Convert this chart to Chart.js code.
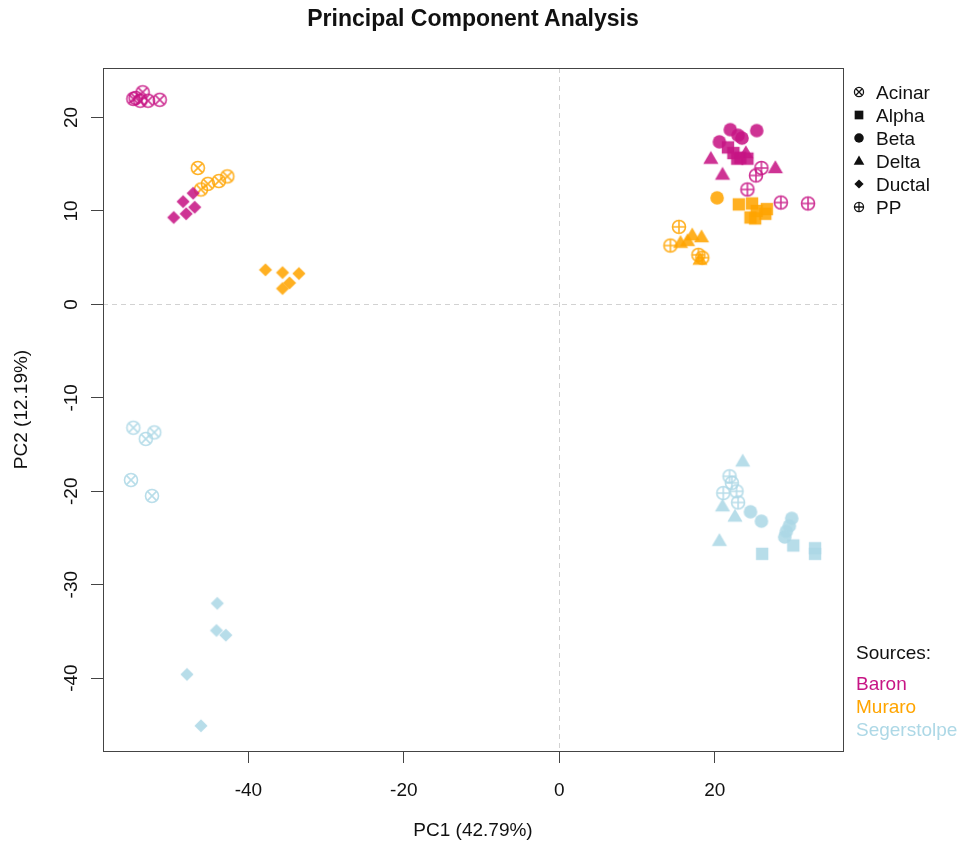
<!DOCTYPE html>
<html><head><meta charset="utf-8">
<script src="https://cdn.jsdelivr.net/npm/chart.js@4"></script>
<style>
html,body{margin:0;padding:0;background:#fff;}
#wrap{position:relative;width:960px;height:845px;font-family:"Liberation Sans",Arial,Helvetica,sans-serif;color:#111;overflow:hidden;}
#c{position:absolute;left:0;top:0;}
.t{position:absolute;white-space:nowrap;font-size:19px;line-height:19px;}
.sym{position:absolute;}
</style></head><body>
<div id="wrap">
<canvas id="c" width="960" height="845"></canvas>
<div class="t" style="left:0;width:946px;top:6.8px;text-align:center;font-weight:bold;font-size:23px;line-height:23px;">Principal Component Analysis</div>
<div id="legend1"></div>
<div id="legend2"></div>
</div>
<script>
// ---- data (PC1, PC2) ----
const cellTypes = ["Acinar", "Alpha", "Beta", "Delta", "Ductal", "PP"];
const sources = ["Baron", "Muraro", "Segerstolpe"];
const sourceColors = ["#C71585", "#FFA500", "#ADD8E6"];
const xTicks = [-40, -20, 0, 20];
const yTicks = [-40, -30, -20, -10, 0, 10, 20];

const baronAcinar = [[-54.8,22.0],[-53.6,22.7],[-53.9,21.8],[-52.9,21.8],[-51.4,21.9],[-54.5,22.1]];
const baronAlpha  = [[21.7,16.8],[22.4,16.2],[23.3,15.7],[24.2,15.6],[22.9,15.6]];
const baronBeta   = [[22.0,18.7],[23.0,18.1],[25.4,18.6],[20.6,17.4],[23.5,17.8]];
const baronDelta  = [[19.5,15.6],[21.0,13.9],[27.8,14.6],[24.0,16.2]];
const baronDuctal = [[-47.1,11.9],[-48.4,11.0],[-46.9,10.4],[-48.0,9.7],[-49.6,9.3]];
const baronPP     = [[26.0,14.6],[25.3,13.8],[24.2,12.3],[28.5,10.9],[32.0,10.8]];

const muraroAcinar = [[-46.5,14.6],[-46.1,12.3],[-45.2,12.9],[-43.8,13.2],[-42.7,13.7]];
const muraroAlpha  = [[23.1,10.7],[24.8,10.8],[25.4,10.0],[26.7,10.2],[24.6,9.3],[26.5,9.7],[25.2,9.2]];
const muraroBeta   = [[20.3,11.4]];
const muraroDelta  = [[17.1,7.4],[18.3,7.2],[15.6,6.6],[18.1,4.8],[16.5,6.8]];
const muraroDuctal = [[-37.8,3.7],[-35.6,3.4],[-33.5,3.3],[-34.7,2.3],[-35.6,1.7]];
const muraroPP     = [[15.4,8.3],[14.3,6.3],[17.9,5.3],[18.4,5.0]];

const segerAcinar = [[-54.8,-13.2],[-53.2,-14.4],[-52.1,-13.7],[-55.1,-18.8],[-52.4,-20.5]];
const segerAlpha  = [[26.1,-26.7],[30.1,-25.8],[32.9,-26.1],[32.9,-26.7]];
const segerBeta   = [[24.6,-22.2],[26.0,-23.2],[29.9,-22.9],[29.6,-23.7],[29.2,-24.3],[29.0,-24.9]];
const segerDelta  = [[23.6,-16.8],[21.0,-21.6],[22.6,-22.7],[20.6,-25.3]];
const segerDuctal = [[-44.0,-32.0],[-44.1,-34.9],[-42.9,-35.4],[-47.9,-39.6],[-46.1,-45.1]];
const segerPP     = [[21.9,-18.4],[22.2,-19.1],[22.8,-20.0],[21.1,-20.2],[23.0,-21.2]];

const groups = [
  [baronAcinar, baronAlpha, baronBeta, baronDelta, baronDuctal, baronPP],
  [muraroAcinar, muraroAlpha, muraroBeta, muraroDelta, muraroDuctal, muraroPP],
  [segerAcinar, segerAlpha, segerBeta, segerDelta, segerDuctal, segerPP]
];

// ---- marker images (R pch 13,15,16,17,18,10) ----
function makeMarker(type, color, s, alpha) {
  const N = Math.ceil(22 * s) + 2;
  const tmp = document.createElement('canvas'); tmp.width = N; tmp.height = N;
  const g = tmp.getContext('2d');
  const c = N / 2;
  g.fillStyle = color; g.strokeStyle = color; g.lineWidth = 1.6 * Math.max(s, 0.8);
  const r = 6.5 * s;
  if (type === 'Acinar' || type === 'PP') {
    g.beginPath(); g.arc(c, c, r, 0, 2 * Math.PI); g.stroke();
    g.beginPath();
    if (type === 'Acinar') {
      const d = r * 0.7071;
      g.moveTo(c - d, c - d); g.lineTo(c + d, c + d);
      g.moveTo(c - d, c + d); g.lineTo(c + d, c - d);
    } else {
      g.moveTo(c - r, c); g.lineTo(c + r, c);
      g.moveTo(c, c - r); g.lineTo(c, c + r);
    }
    g.stroke();
  } else if (type === 'Alpha') {
    const h = 6.2 * s; g.fillRect(c - h, c - h, 2 * h, 2 * h);
  } else if (type === 'Beta') {
    g.beginPath(); g.arc(c, c, 6.8 * s, 0, 2 * Math.PI); g.fill();
  } else if (type === 'Delta') {
    g.beginPath(); g.moveTo(c, c - 7.8 * s); g.lineTo(c - 7.6 * s, c + 5.2 * s); g.lineTo(c + 7.6 * s, c + 5.2 * s); g.closePath(); g.fill();
  } else if (type === 'Ductal') {
    const h = 6.6 * s;
    g.beginPath(); g.moveTo(c, c - h); g.lineTo(c + h, c); g.lineTo(c, c + h); g.lineTo(c - h, c); g.closePath(); g.fill();
  }
  const out = document.createElement('canvas'); out.width = N; out.height = N;
  const o = out.getContext('2d'); o.globalAlpha = alpha; o.drawImage(tmp, 0, 0);
  return out;
}

const datasets = [];
sources.forEach((src, si) => {
  cellTypes.forEach((ct, ti) => {
    const pts = groups[si][ti];
    datasets.push({
      label: src + ' ' + ct,
      data: pts.map(p => ({x: p[0], y: p[1]})),
      pointStyle: makeMarker(ct, sourceColors[si], 1, 0.87),
      pointRadius: 7, pointHoverRadius: 7
    });
  });
});

const FONT = '"Liberation Sans", Arial, Helvetica, sans-serif';

const framePlugin = {
  id: 'frame',
  beforeDatasetsDraw(chart) {
    const {ctx, chartArea: a, scales: {x, y}} = chart;
    ctx.save();
    ctx.strokeStyle = '#d2d2d2'; ctx.lineWidth = 1; ctx.setLineDash([5, 4]);
    const px = Math.round(x.getPixelForValue(0)) + 0.5;
    const py = Math.round(y.getPixelForValue(0)) + 0.5;
    ctx.beginPath(); ctx.moveTo(px, a.top); ctx.lineTo(px, a.bottom); ctx.stroke();
    ctx.beginPath(); ctx.moveTo(a.left, py); ctx.lineTo(a.right, py); ctx.stroke();
    ctx.restore();
  },
  afterDraw(chart) {
    const {ctx, chartArea: a} = chart;
    ctx.save();
    ctx.strokeStyle = '#444'; ctx.lineWidth = 1;
    ctx.strokeRect(Math.round(a.left) + 0.5, Math.round(a.top) + 0.5, Math.round(a.right - a.left), Math.round(a.bottom - a.top));
    ctx.restore();
  }
};

new Chart(document.getElementById('c'), {
  type: 'scatter',
  data: {datasets},
  options: {
    responsive: false, animation: false, devicePixelRatio: 1,
    layout: {padding: {top: 68, right: 117, bottom: 0, left: 0}},
    plugins: {legend: {display: false}, title: {display: false}, tooltip: {enabled: false}},
    scales: {
      x: {
        type: 'linear', position: 'bottom', min: -58.7, max: 36.5,
        afterBuildTicks: s => { s.ticks = xTicks.map(v => ({value: v})); },
        afterFit: s => { s.height = 94; },
        grid: {drawOnChartArea: false, drawTicks: true, tickLength: 12, color: '#444', lineWidth: 1},
        border: {display: true, color: '#444', width: 1},
        ticks: {font: {family: FONT, size: 19}, color: '#111', padding: 16, maxRotation: 0, autoSkip: false},
        title: {display: true, text: 'PC1 (42.79%)', font: {family: FONT, size: 19}, color: '#111', padding: {top: 0, bottom: 2.8}}
      },
      y: {
        type: 'linear', position: 'left', min: -47.8, max: 25.3,
        afterBuildTicks: s => { s.ticks = yTicks.map(v => ({value: v})); },
        afterFit: s => { s.width = 103; },
        grid: {drawOnChartArea: false, drawTicks: true, tickLength: 12, color: '#444', lineWidth: 1},
        border: {display: true, color: '#444', width: 1},
        ticks: {font: {family: FONT, size: 19}, color: '#111', padding: 6, minRotation: 90, maxRotation: 90, crossAlign: 'center', autoSkip: false},
        title: {display: true, text: 'PC2 (12.19%)', font: {family: FONT, size: 19}, color: '#111', padding: {top: 10.6, bottom: 0}}
      }
    }
  },
  plugins: [framePlugin]
});

// ---- legends (HTML text) ----
const l1 = document.getElementById('legend1');
cellTypes.forEach((ct, i) => {
  const cy = 92 + 23 * i;
  const m = makeMarker(ct, '#111', 0.7, 1);
  m.className = 'sym';
  m.style.left = (859 - m.width / 2) + 'px';
  m.style.top = (cy - m.height / 2) + 'px';
  l1.appendChild(m);
  const d = document.createElement('div');
  d.className = 't'; d.textContent = ct;
  d.style.left = '876px'; d.style.top = (cy - 9.3) + 'px';
  l1.appendChild(d);
});
const l2 = document.getElementById('legend2');
const h = document.createElement('div');
h.className = 't'; h.textContent = 'Sources:'; h.style.left = '856px'; h.style.top = (652 - 9.3) + 'px';
l2.appendChild(h);
sources.forEach((s, i) => {
  const d = document.createElement('div');
  d.className = 't'; d.textContent = s; d.style.color = sourceColors[i];
  d.style.left = '856px'; d.style.top = (683 + 23 * i - 9.3) + 'px';
  l2.appendChild(d);
});
</script>
</body></html>
